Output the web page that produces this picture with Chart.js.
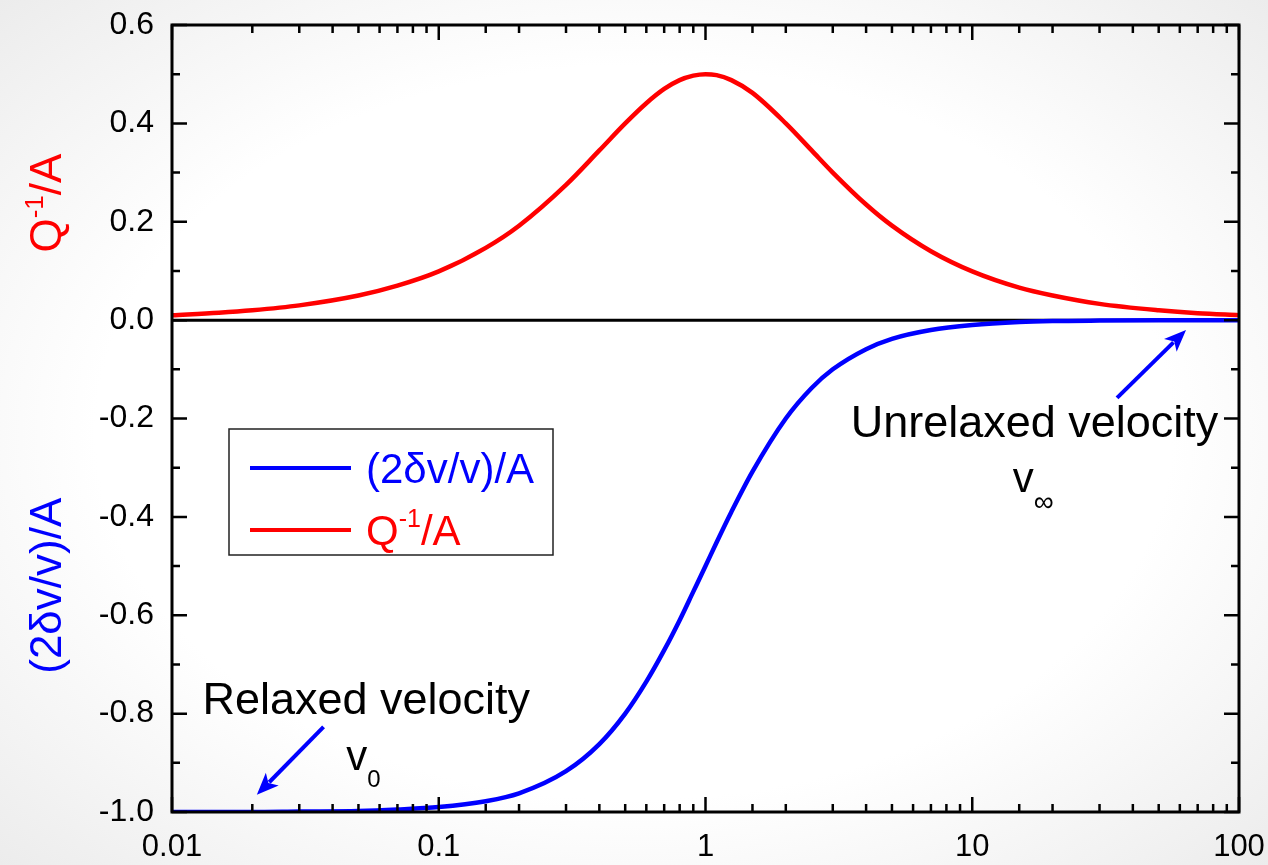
<!DOCTYPE html>
<html>
<head>
<meta charset="utf-8">
<title>Relaxation peak</title>
<script src="https://cdn.jsdelivr.net/npm/chart.js@4.4.0/dist/chart.umd.min.js"></script>
<style>
  html, body { margin: 0; padding: 0; }
  body {
    width: 1268px; height: 865px; overflow: hidden;
    background: radial-gradient(ellipse at 50% 50%, #ffffff 60%, #ececec 100%);
  }
  canvas { display: block; }
</style>
</head>
<body>
<canvas id="chart" width="1268" height="865"></canvas>
<script>
// normalised frequency (omega*tau)
const omegaTau = [0.01, 0.015, 0.02, 0.03, 0.05, 0.07, 0.1, 0.15, 0.2, 0.3, 0.4, 0.5, 0.6, 0.7, 0.8, 0.9,
                  1, 1.1, 1.25, 1.5, 2, 2.5, 3, 4, 5, 7, 10, 15, 20, 30, 50, 70, 100];
// attenuation Q^-1 / A
const attenuation = [0.010, 0.015, 0.020, 0.030, 0.050, 0.070, 0.099, 0.147, 0.192, 0.275, 0.345, 0.400, 0.441, 0.470, 0.488, 0.497,
                     0.500, 0.498, 0.488, 0.462, 0.400, 0.345, 0.300, 0.235, 0.192, 0.140, 0.099, 0.066, 0.050, 0.033, 0.020, 0.014, 0.010];
// velocity change (2 dv/v) / A
const velocityShift = [-1.000, -1.000, -1.000, -0.999, -0.998, -0.995, -0.990, -0.978, -0.962, -0.917, -0.862, -0.800, -0.735, -0.671, -0.610, -0.552,
                       -0.500, -0.452, -0.390, -0.308, -0.200, -0.138, -0.100, -0.059, -0.038, -0.020, -0.010, -0.004, -0.002, -0.001, -0.0004, -0.0002, -0.0001];

const xMajorTicks = [0.01, 0.1, 1, 10, 100];
const yRange = [-1.0, 0.6];

const BLUE = '#0000ff';
const RED = '#ff0000';
const FONT = 'Arial, "Liberation Sans", sans-serif';

// labels pointing at the two limits of the velocity curve
const notes = [
  { text: 'Relaxed velocity', x: 0.013, y: -0.80, size: 45 },
  { text: 'Unrelaxed velocity', x: 3.5, y: -0.237, size: 45 }
];
const symbols = [
  { base: 'v', sub: '0', x: 0.045, y: -0.915, subSize: 24, subDy: 17 },
  { base: 'v', sub: '\u221e', x: 14.2, y: -0.35, subSize: 28, subDy: 19 }
];
const arrows = [
  { from: [0.037, -0.827], to: [0.0208, -0.965] },
  { from: [34.9, -0.158], to: [63.3, -0.020] }
];

function isDecade(v) {
  const l = Math.log10(v);
  return Math.abs(l - Math.round(l)) < 1e-6;
}

// draws a run of text pieces, each with its own size and vertical shift
function drawPieces(ctx, pieces, x, y, color, align) {
  let total = 0;
  pieces.forEach(p => {
    ctx.font = p.size + 'px ' + FONT;
    p.w = ctx.measureText(p.t).width;
    total += p.w;
  });
  let cx = align === 'center' ? x - total / 2 : x;
  ctx.fillStyle = color;
  ctx.textAlign = 'left';
  ctx.textBaseline = 'alphabetic';
  pieces.forEach(p => {
    ctx.font = p.size + 'px ' + FONT;
    ctx.fillText(p.t, cx, y + (p.dy || 0));
    cx += p.w;
  });
}

const qPieces = size => [
  { t: 'Q', size: size },
  { t: '-1', size: Math.round(size * 0.6), dy: -size * 0.42 },
  { t: '/A', size: size }
];
const vPieces = size => [{ t: '(2\u03b4v/v)/A', size: size }];

// plot box is fixed by the layout padding, not by label overhang
function fixBox(s, size) {
  s.paddingTop = 0; s.paddingBottom = 0; s.paddingLeft = 0; s.paddingRight = 0;
  if (s.isHorizontal()) s.height = size; else s.width = size;
}

const framePlugin = {
  id: 'frame',
  beforeDatasetsDraw(chart) {
    const { ctx, chartArea: a, scales: { y } } = chart;
    const y0 = y.getPixelForValue(0);
    ctx.save();
    ctx.strokeStyle = '#000';
    ctx.lineWidth = 3;
    ctx.beginPath();
    ctx.moveTo(a.left, y0);
    ctx.lineTo(a.right, y0);
    ctx.stroke();
    ctx.restore();
  },
  afterDatasetsDraw(chart) {
    const { ctx, chartArea: a, scales: { x, y } } = chart;
    ctx.save();
    ctx.strokeStyle = '#000';
    ctx.lineWidth = 3;
    ctx.strokeRect(a.left, a.top, a.right - a.left, a.bottom - a.top);

    // inward tick marks on all four sides
    ctx.lineWidth = 2.5;
    ctx.beginPath();
    x.ticks.forEach(t => {
      const px = x.getPixelForValue(t.value);
      const len = isDecade(t.value) ? 15 : 8;
      ctx.moveTo(px, a.bottom); ctx.lineTo(px, a.bottom - len);
      ctx.moveTo(px, a.top); ctx.lineTo(px, a.top + len);
    });
    y.ticks.forEach(t => {
      const py = y.getPixelForValue(t.value);
      const len = Math.round(t.value * 10) % 2 === 0 ? 15 : 8;
      ctx.moveTo(a.left, py); ctx.lineTo(a.left + len, py);
      ctx.moveTo(a.right, py); ctx.lineTo(a.right - len, py);
    });
    ctx.stroke();

    // legend box
    const lx = a.left + 57, ly = a.top + 404, lw = 324, lh = 126;
    ctx.fillStyle = '#fff';
    ctx.fillRect(lx, ly, lw, lh);
    ctx.strokeStyle = '#222';
    ctx.lineWidth = 1.5;
    ctx.strokeRect(lx, ly, lw, lh);
    const rows = [
      { color: BLUE, pieces: vPieces(42), yy: ly + 39 },
      { color: RED, pieces: qPieces(42), yy: ly + 101 }
    ];
    rows.forEach(r => {
      ctx.strokeStyle = r.color;
      ctx.lineWidth = 4;
      ctx.beginPath();
      ctx.moveTo(lx + 21, r.yy);
      ctx.lineTo(lx + 122, r.yy);
      ctx.stroke();
      drawPieces(ctx, r.pieces, lx + 137, r.yy + 15, r.color, 'left');
    });

    // arrows
    arrows.forEach(ar => {
      const x1 = x.getPixelForValue(ar.from[0]), y1 = y.getPixelForValue(ar.from[1]);
      const x2 = x.getPixelForValue(ar.to[0]), y2 = y.getPixelForValue(ar.to[1]);
      const ang = Math.atan2(y2 - y1, x2 - x1);
      const head = 22, half = 9;
      ctx.strokeStyle = BLUE;
      ctx.fillStyle = BLUE;
      ctx.lineWidth = 4;
      ctx.beginPath();
      ctx.moveTo(x1, y1);
      ctx.lineTo(x2 - Math.cos(ang) * head * 0.8, y2 - Math.sin(ang) * head * 0.8);
      ctx.stroke();
      ctx.beginPath();
      ctx.moveTo(x2, y2);
      ctx.lineTo(x2 - Math.cos(ang) * head + Math.sin(ang) * half, y2 - Math.sin(ang) * head - Math.cos(ang) * half);
      ctx.lineTo(x2 - Math.cos(ang) * head * 0.75, y2 - Math.sin(ang) * head * 0.75);
      ctx.lineTo(x2 - Math.cos(ang) * head - Math.sin(ang) * half, y2 - Math.sin(ang) * head + Math.cos(ang) * half);
      ctx.closePath();
      ctx.fill();
    });

    // text notes
    notes.forEach(n => {
      drawPieces(ctx, [{ t: n.text, size: n.size }], x.getPixelForValue(n.x), y.getPixelForValue(n.y), '#000', 'left');
    });
    symbols.forEach(s => {
      drawPieces(ctx, [{ t: s.base, size: 42 }, { t: s.sub, size: s.subSize, dy: s.subDy }],
        x.getPixelForValue(s.x), y.getPixelForValue(s.y), '#000', 'left');
    });
    ctx.restore();
  },
  afterDraw(chart) {
    const { ctx, scales: { y } } = chart;
    // two coloured titles share the left axis
    const titles = [
      { pieces: qPieces(44), color: RED, cy: y.getPixelForValue(0.238) },
      { pieces: vPieces(44), color: BLUE, cy: y.getPixelForValue(-0.54) }
    ];
    titles.forEach(t => {
      ctx.save();
      ctx.translate(61, t.cy);
      ctx.rotate(-Math.PI / 2);
      drawPieces(ctx, t.pieces, 0, 0, t.color, 'center');
      ctx.restore();
    });
  }
};

const toPoints = ys => omegaTau.map((v, i) => ({ x: v, y: ys[i] }));

new Chart(document.getElementById('chart'), {
  type: 'line',
  data: {
    datasets: [
      {
        label: '(2\u03b4v/v)/A',
        data: toPoints(velocityShift),
        borderColor: BLUE,
        borderWidth: 4.5,
        pointRadius: 0,
        cubicInterpolationMode: 'monotone'
      },
      {
        label: 'Q-1/A',
        data: toPoints(attenuation),
        borderColor: RED,
        borderWidth: 4.5,
        pointRadius: 0,
        cubicInterpolationMode: 'monotone'
      }
    ]
  },
  options: {
    responsive: false,
    animation: false,
    layout: { padding: { top: 25, right: 29, left: 0, bottom: 0 } },
    plugins: { legend: { display: false }, tooltip: { enabled: false } },
    scales: {
      x: {
        type: 'logarithmic',
        min: xMajorTicks[0],
        max: xMajorTicks[xMajorTicks.length - 1],
        grid: { display: false, drawTicks: false },
        border: { display: false },
        afterFit: s => fixBox(s, 53),
        ticks: {
          autoSkip: false,
          maxRotation: 0,
          padding: 17,
          color: '#000',
          font: { family: FONT, size: 31 },
          callback: v => (isDecade(v) && xMajorTicks.some(m => Math.abs(m - v) / m < 1e-6)) ? String(Number(v.toPrecision(2))) : ''
        }
      },
      y: {
        min: yRange[0],
        max: yRange[1],
        grid: { display: false, drawTicks: false },
        border: { display: false },
        afterFit: s => fixBox(s, 172),
        ticks: {
          stepSize: 0.1,
          autoSkip: false,
          padding: 18,
          color: '#000',
          font: { family: FONT, size: 32 },
          callback: v => Math.round(v * 10) % 2 === 0 ? v.toFixed(1) : ''
        }
      }
    }
  },
  plugins: [framePlugin]
});
</script>
</body>
</html>
